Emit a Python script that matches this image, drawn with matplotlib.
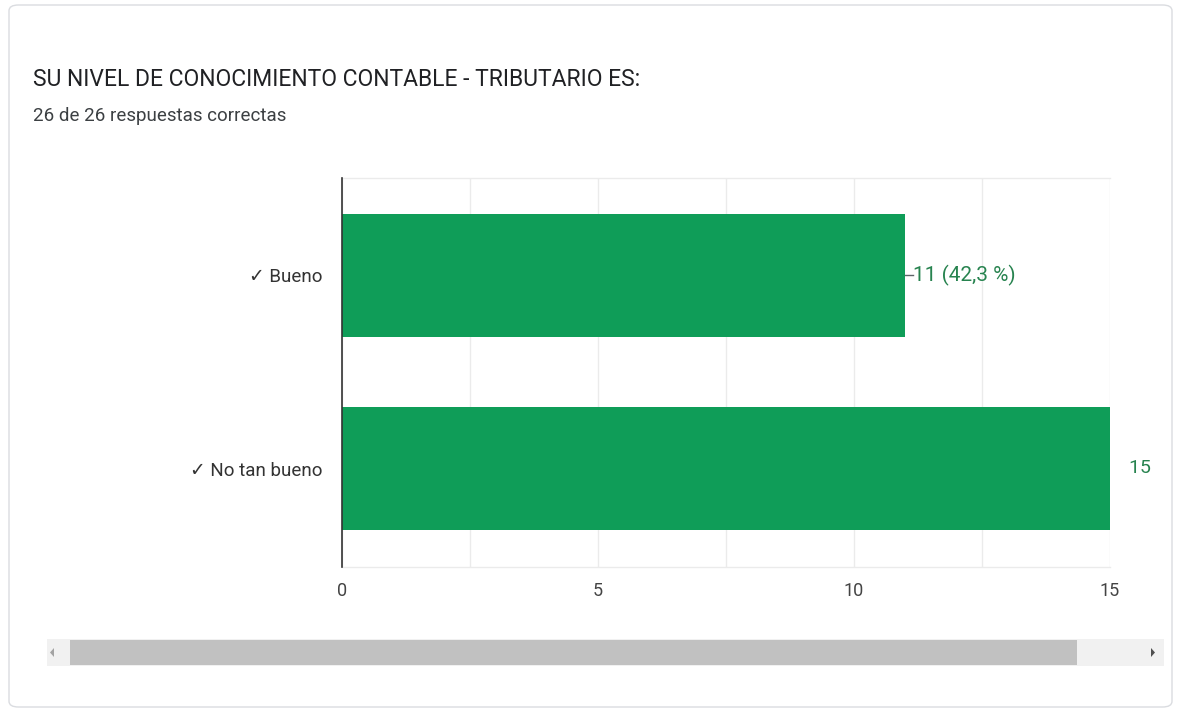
import matplotlib
matplotlib.use("Agg")
import matplotlib.pyplot as plt
from matplotlib.patches import FancyBboxPatch, Rectangle, Polygon
from matplotlib.transforms import Bbox

plt.rcParams['font.family'] = ['Roboto', 'DejaVu Sans']

title = "SU NIVEL DE CONOCIMIENTO CONTABLE - TRIBUTARIO ES:"
subtitle = "26 de 26 respuestas correctas"
categories = ["\u2713 Bueno", "\u2713 No tan bueno"]
counts = [11, 15]
percents = ["42,3 %", "57,7 %"]
xticks = [0, 5, 10, 15]

W, H = 1183, 712
fig = plt.figure(figsize=(W / 100, H / 100), dpi=100)
fig.patch.set_facecolor("white")

def fx(px):
    return px / W

def fy(py):
    return 1 - py / H

# card
card = FancyBboxPatch((fx(9), fy(707)), fx(1172) - fx(9), fy(5) - fy(707),
                      boxstyle="round,pad=0,rounding_size=0.008",
                      transform=fig.transFigure, facecolor="white",
                      edgecolor="#dadce0", linewidth=1.0, zorder=-10)
fig.patches.append(card)

fig.text(fx(33), fy(80), title, fontsize=16.5, color="#202124",
         va="center", ha="left")
fig.text(fx(33), fy(116), subtitle, fontsize=13.5, color="#3c4043",
         va="center", ha="left")

ax = fig.add_axes([fx(342), fy(567), fx(1110) - fx(342), fy(178) - fy(567)])
ax.set_facecolor("none")
green = "#0f9d58"
ypos = list(range(len(categories)))
ax.barh(ypos, counts, height=0.637, color=green, zorder=3)
ax.set_ylim(len(categories) - 0.49, -0.505)
ax.set_xlim(0, 15)
ax.set_yticks(ypos)
ax.set_yticklabels(categories, fontsize=13.5, color="#333333")
ax.set_xticks(xticks)
ax.set_xticklabels([str(t) for t in xticks], fontsize=13, color="#444444")
ax.set_xticks([2.5, 7.5, 12.5], minor=True)
ax.tick_params(axis="both", which="both", length=0)
ax.tick_params(axis="y", pad=14)
ax.tick_params(axis="x", pad=11)
ax.grid(True, axis="x", which="both", color="#ebebeb", linewidth=1, zorder=0)
for s in ["top", "right", "bottom"]:
    ax.spines[s].set_visible(False)
ax.spines["left"].set_color("#333333")
ax.spines["left"].set_linewidth(1.2)
ax.spines["left"].set_zorder(4)
ax.axhline(-0.505, color="#ebebeb", linewidth=1, zorder=0, clip_on=False)
ax.axhline(len(categories) - 0.49, color="#ebebeb", linewidth=1, zorder=0, clip_on=False)

label_color = "#27834f"
clip = Bbox([[0, 0], [1157, H]])
for y, c, p in zip(ypos, counts, percents):
    if c < 15:
        ax.plot([c, c + 0.15], [y, y], color="#5f6368", linewidth=1, clip_on=False, zorder=4)
        ax.text(c + 0.15, y, f"{c} ({p})", color=label_color, fontsize=15,
                va="center", ha="left", clip_on=False)
    else:
        t = ax.text(c + 0.37, y, f"{c} ({p})", color=label_color, fontsize=14,
                    va="center", ha="left")
        t.set_clip_on(True)
        t.set_clip_box(clip)

# scrollbar
fig.patches.append(Rectangle((fx(47), fy(666)), fx(1164) - fx(47), fy(639) - fy(666),
                             transform=fig.transFigure, facecolor="#f1f1f1",
                             edgecolor="none"))
fig.patches.append(Rectangle((fx(70), fy(665)), fx(1077) - fx(70), fy(640) - fy(665),
                             transform=fig.transFigure, facecolor="#c1c1c1",
                             edgecolor="none"))
fig.patches.append(Polygon([(fx(54), fy(648)), (fx(54), fy(657)), (fx(50), fy(652.5))],
                           closed=True, transform=fig.transFigure,
                           facecolor="#a3a3a3", edgecolor="none"))
fig.patches.append(Polygon([(fx(1151), fy(648)), (fx(1151), fy(657)), (fx(1155), fy(652.5))],
                           closed=True, transform=fig.transFigure,
                           facecolor="#505050", edgecolor="none"))

fig.savefig("out.png", dpi=100)
